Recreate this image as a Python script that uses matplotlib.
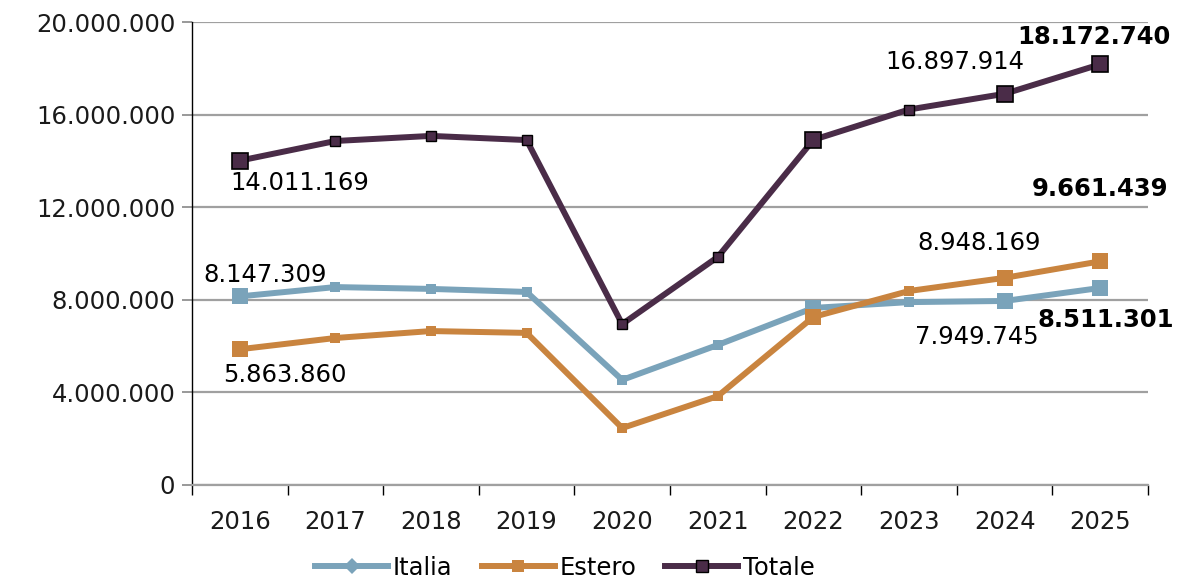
import matplotlib.pyplot as plt
from matplotlib.lines import Line2D
from matplotlib.ticker import FuncFormatter, FixedLocator

anni = ['2016', '2017', '2018', '2019', '2020', '2021', '2022', '2023', '2024', '2025']
italia = [8147309, 8550000, 8470000, 8340000, 4540000, 6050000, 7650000, 7900000, 7949745, 8511301]
estero = [5863860, 6350000, 6650000, 6570000, 2460000, 3840000, 7260000, 8380000, 8948169, 9661439]
totale = [14011169, 14860000, 15080000, 14900000, 6950000, 9850000, 14910000, 16220000, 16897914, 18172740]

col_it = '#7AA3BA'
col_es = '#C9843F'
col_to = '#4A2C48'

big = [0, 6, 8, 9]
small = [1, 2, 3, 4, 5, 7]

plt.rcParams['font.family'] = 'DejaVu Sans'
fs = 17.5

fig = plt.figure(figsize=(11.82, 5.82), dpi=100)
ax = fig.add_axes([192/1182, 97/582, 956/1182, 463/582])

x = list(range(len(anni)))
for vals, col, edge in [(italia, col_it, col_it), (estero, col_es, col_es), (totale, col_to, 'black')]:
    ax.plot(x, vals, color=col, lw=4.3, zorder=3, solid_capstyle='round')
    ax.plot(x, vals, ls='none', marker='s', markevery=small, ms=7.5, color=col,
            mec=edge, mew=1.0 if edge == 'black' else 0, zorder=4)
    ax.plot(x, vals, ls='none', marker='s', markevery=big, ms=12, color=col,
            mec=edge, mew=1.2 if edge == 'black' else 0, zorder=4)

ax.set_xlim(-0.5, 9.5)
ax.set_ylim(0, 20000000)
ax.yaxis.set_major_locator(FixedLocator([0, 4e6, 8e6, 12e6, 16e6, 20e6]))
ax.yaxis.set_major_formatter(FuncFormatter(lambda v, p: f'{int(v):,}'.replace(',', '.')))
ax.grid(axis='y', color='#A0A0A0', lw=1.6, zorder=1)

ax.xaxis.set_major_locator(FixedLocator([i - 0.5 for i in range(11)]))
ax.xaxis.set_major_formatter(FuncFormatter(lambda v, p: ''))
ax.xaxis.set_minor_locator(FixedLocator(x))
ax.set_xticklabels(anni, minor=True)
ax.tick_params(axis='x', which='major', direction='out', length=7, width=1, color='black')
ax.tick_params(axis='x', which='minor', length=0, pad=18, labelsize=fs, labelcolor='#1a1a1a')
ax.tick_params(axis='y', direction='out', length=7, width=1.2, color='#888888', labelsize=fs,
               labelcolor='#1a1a1a', pad=5)

for s in ['top', 'right']:
    ax.spines[s].set_visible(False)
ax.spines['left'].set_color('black')
ax.spines['left'].set_linewidth(1)
ax.spines['bottom'].set_color('#A0A0A0')
ax.spines['bottom'].set_linewidth(1.6)

def lab(i, vals, dx, dy, bold=False):
    ax.annotate(f'{vals[i]:,}'.replace(',', '.'), (i, vals[i]), xytext=(dx, dy),
                textcoords='offset pixels', ha='center', va='center', fontsize=fs,
                fontweight='bold' if bold else 'normal', color='black', zorder=5)

lab(0, totale, 60, -22)
lab(0, italia, 25, 21)
lab(0, estero, 45, -26)
lab(8, totale, -50, 32)
lab(9, totale, -6, 27, True)
lab(9, estero, 0, 72, True)
lab(8, estero, -25, 35)
lab(8, italia, -28, -36)
lab(9, italia, 6, -32, True)

handles = [
    Line2D([], [], color=col_it, lw=4.3, marker='D', ms=8, mew=0),
    Line2D([], [], color=col_es, lw=4.3, marker='s', ms=8, mew=0),
    Line2D([], [], color=col_to, lw=4.3, marker='s', ms=8, mec='black', mew=1),
]
fig.legend(handles, ['Italia', 'Estero', 'Totale'], loc='center', bbox_to_anchor=(565/1182, 1 - 568/582),
           ncol=3, frameon=False, fontsize=fs, handlelength=3, columnspacing=1.2, handletextpad=0.2)

fig.savefig('out.png', dpi=100)
